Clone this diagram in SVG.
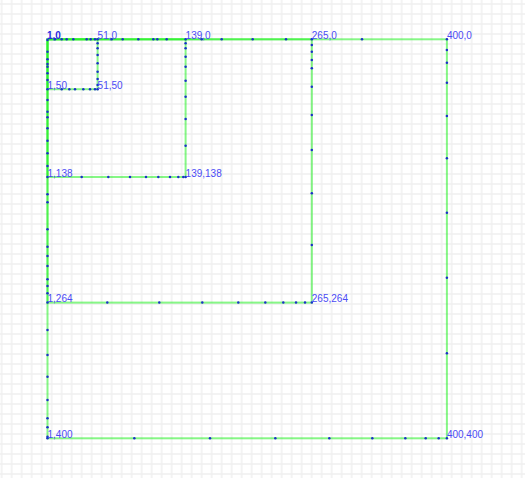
<svg xmlns="http://www.w3.org/2000/svg" width="525" height="478" viewBox="0 0 525 478">
<defs>
<pattern id="grid" patternUnits="userSpaceOnUse" x="-3.3" y="-1" width="10" height="10">
<rect x="4.2" y="0" width="1.6" height="10" fill="#f0f0f0"/>
<rect x="0" y="4.2" width="10" height="1.6" fill="#f0f0f0"/>
</pattern>
<style>
.sq{fill:none;stroke:#22f022;stroke-opacity:0.55;stroke-width:2}
.d{fill:#1a30c8}
.lb{font-family:"Liberation Sans",Arial,sans-serif;font-size:10px;fill:#4b4bf5}
.lb0{font-family:"Liberation Sans",Arial,sans-serif;font-size:10px;font-weight:bold;fill:#2a2ae0}
</style>
</defs>
<rect width="525" height="478" fill="#ffffff"/>
<rect width="525" height="478" fill="url(#grid)"/>
<g id="square-400"><rect class="sq" x="47.5" y="39.3" width="399.4" height="399"/></g>
<g id="square-265"><rect class="sq" x="47.5" y="39.3" width="264.3" height="263.3"/></g>
<g id="square-139"><rect class="sq" x="47.5" y="39.3" width="138.1" height="137.7"/></g>
<g id="square-51"><rect class="sq" x="47.5" y="39.3" width="50.1" height="49.9"/></g>
<g id="points">
<g transform="translate(47.5,0)">
<circle class="d" cx="0" cy="40" r="1.25"/><circle class="d" cx="0" cy="51.7" r="1.25"/><circle class="d" cx="0" cy="59.3" r="1.25"/><circle class="d" cx="0" cy="64" r="1.25"/><circle class="d" cx="0" cy="66.7" r="1.25"/><circle class="d" cx="0" cy="73.3" r="1.25"/><circle class="d" cx="0" cy="80" r="1.25"/><circle class="d" cx="0" cy="89.2" r="1.25"/><circle class="d" cx="0" cy="100" r="1.25"/><circle class="d" cx="0" cy="111.7" r="1.25"/><circle class="d" cx="0" cy="117.3" r="1.25"/><circle class="d" cx="0" cy="128.3" r="1.25"/><circle class="d" cx="0" cy="140.7" r="1.25"/><circle class="d" cx="0" cy="153.3" r="1.25"/><circle class="d" cx="0" cy="166" r="1.25"/><circle class="d" cx="0" cy="177" r="1.25"/><circle class="d" cx="0" cy="194.3" r="1.25"/><circle class="d" cx="0" cy="202.3" r="1.25"/><circle class="d" cx="0" cy="229.3" r="1.25"/><circle class="d" cx="0" cy="246.7" r="1.25"/><circle class="d" cx="0" cy="256" r="1.25"/><circle class="d" cx="0" cy="266" r="1.25"/><circle class="d" cx="0" cy="279.3" r="1.25"/><circle class="d" cx="0" cy="286" r="1.25"/><circle class="d" cx="0" cy="293.3" r="1.25"/><circle class="d" cx="0" cy="302.6" r="1.25"/><circle class="d" cx="0" cy="330" r="1.25"/><circle class="d" cx="0" cy="355" r="1.25"/><circle class="d" cx="0" cy="376.7" r="1.25"/><circle class="d" cx="0" cy="400" r="1.25"/><circle class="d" cx="0" cy="418.3" r="1.25"/><circle class="d" cx="0" cy="427.3" r="1.25"/><circle class="d" cx="0" cy="436.7" r="1.25"/><circle class="d" cx="0" cy="438.3" r="1.25"/>
</g>
<g transform="translate(0,39.3)">
<circle class="d" cx="55" cy="0" r="1.25"/><circle class="d" cx="61.7" cy="0" r="1.25"/><circle class="d" cx="66.7" cy="0" r="1.25"/><circle class="d" cx="73.3" cy="0" r="1.25"/><circle class="d" cx="86.7" cy="0" r="1.25"/><circle class="d" cx="90.7" cy="0" r="1.25"/><circle class="d" cx="95" cy="0" r="1.25"/><circle class="d" cx="97.6" cy="0" r="1.25"/><circle class="d" cx="111.7" cy="0" r="1.25"/><circle class="d" cx="122.7" cy="0" r="1.25"/><circle class="d" cx="138.3" cy="0" r="1.25"/><circle class="d" cx="153.3" cy="0" r="1.25"/><circle class="d" cx="157.3" cy="0" r="1.25"/><circle class="d" cx="166.7" cy="0" r="1.25"/><circle class="d" cx="185.6" cy="0" r="1.25"/><circle class="d" cx="201.7" cy="0" r="1.25"/><circle class="d" cx="221.7" cy="0" r="1.25"/><circle class="d" cx="252.7" cy="0" r="1.25"/><circle class="d" cx="286" cy="0" r="1.25"/><circle class="d" cx="311.8" cy="0" r="1.25"/><circle class="d" cx="362" cy="0" r="1.25"/><circle class="d" cx="446.9" cy="0" r="1.25"/>
</g>
<g transform="translate(97.6,0)">
<circle class="d" cx="0" cy="43.3" r="1.25"/><circle class="d" cx="0" cy="48.3" r="1.25"/><circle class="d" cx="0" cy="55" r="1.25"/><circle class="d" cx="0" cy="63.3" r="1.25"/><circle class="d" cx="0" cy="71.7" r="1.25"/><circle class="d" cx="0" cy="79" r="1.25"/><circle class="d" cx="0" cy="85" r="1.25"/><circle class="d" cx="0" cy="89.2" r="1.25"/>
</g>
<g transform="translate(0,89.2)">
<circle class="d" cx="61.7" cy="0" r="1.25"/><circle class="d" cx="69.3" cy="0" r="1.25"/><circle class="d" cx="75" cy="0" r="1.25"/><circle class="d" cx="83.3" cy="0" r="1.25"/><circle class="d" cx="90" cy="0" r="1.25"/><circle class="d" cx="95" cy="0" r="1.25"/>
</g>
<g transform="translate(185.6,0)">
<circle class="d" cx="0" cy="43.3" r="1.25"/><circle class="d" cx="0" cy="48.3" r="1.25"/><circle class="d" cx="0" cy="56.7" r="1.25"/><circle class="d" cx="0" cy="66.7" r="1.25"/><circle class="d" cx="0" cy="80.7" r="1.25"/><circle class="d" cx="0" cy="96.7" r="1.25"/><circle class="d" cx="0" cy="119" r="1.25"/><circle class="d" cx="0" cy="145.7" r="1.25"/><circle class="d" cx="0" cy="177" r="1.25"/>
</g>
<g transform="translate(0,177)">
<circle class="d" cx="81.7" cy="0" r="1.25"/><circle class="d" cx="108.3" cy="0" r="1.25"/><circle class="d" cx="130" cy="0" r="1.25"/><circle class="d" cx="146" cy="0" r="1.25"/><circle class="d" cx="158.3" cy="0" r="1.25"/><circle class="d" cx="170" cy="0" r="1.25"/><circle class="d" cx="178.3" cy="0" r="1.25"/><circle class="d" cx="183.3" cy="0" r="1.25"/>
</g>
<g transform="translate(311.8,0)">
<circle class="d" cx="0" cy="45" r="1.25"/><circle class="d" cx="0" cy="51.7" r="1.25"/><circle class="d" cx="0" cy="60" r="1.25"/><circle class="d" cx="0" cy="68.3" r="1.25"/><circle class="d" cx="0" cy="86.7" r="1.25"/><circle class="d" cx="0" cy="115" r="1.25"/><circle class="d" cx="0" cy="150" r="1.25"/><circle class="d" cx="0" cy="193.3" r="1.25"/><circle class="d" cx="0" cy="245" r="1.25"/><circle class="d" cx="0" cy="302.6" r="1.25"/>
</g>
<g transform="translate(0,302.6)">
<circle class="d" cx="107.3" cy="0" r="1.25"/><circle class="d" cx="159.3" cy="0" r="1.25"/><circle class="d" cx="202.3" cy="0" r="1.25"/><circle class="d" cx="238.3" cy="0" r="1.25"/><circle class="d" cx="265.3" cy="0" r="1.25"/><circle class="d" cx="283.3" cy="0" r="1.25"/><circle class="d" cx="296" cy="0" r="1.25"/><circle class="d" cx="305" cy="0" r="1.25"/>
</g>
<g transform="translate(446.9,0)">
<circle class="d" cx="0" cy="50" r="1.25"/><circle class="d" cx="0" cy="62.7" r="1.25"/><circle class="d" cx="0" cy="82.7" r="1.25"/><circle class="d" cx="0" cy="116" r="1.25"/><circle class="d" cx="0" cy="158.3" r="1.25"/><circle class="d" cx="0" cy="212.7" r="1.25"/><circle class="d" cx="0" cy="277.7" r="1.25"/><circle class="d" cx="0" cy="353.3" r="1.25"/><circle class="d" cx="0" cy="438.3" r="1.25"/>
</g>
<g transform="translate(0,438.3)">
<circle class="d" cx="134.3" cy="0" r="1.25"/><circle class="d" cx="210" cy="0" r="1.25"/><circle class="d" cx="275.3" cy="0" r="1.25"/><circle class="d" cx="329.3" cy="0" r="1.25"/><circle class="d" cx="372.3" cy="0" r="1.25"/><circle class="d" cx="405.3" cy="0" r="1.25"/><circle class="d" cx="425.7" cy="0" r="1.25"/><circle class="d" cx="438.7" cy="0" r="1.25"/>
</g>
</g>
<g id="labels">
<text class="lb0" x="47" y="38.5">1,0</text>
<text class="lb" x="97.6" y="38.5">51,0</text>
<text class="lb" x="185.6" y="38.5">139,0</text>
<text class="lb" x="311.8" y="38.5">265,0</text>
<text class="lb" x="446.9" y="38.5">400,0</text>
<text class="lb" x="47.5" y="88.7">1,50</text>
<text class="lb" x="97.6" y="88.7">51,50</text>
<text class="lb" x="47.5" y="176.5">1,138</text>
<text class="lb" x="185.6" y="176.5">139,138</text>
<text class="lb" x="47.5" y="302.1">1,264</text>
<text class="lb" x="311.8" y="302.1">265,264</text>
<text class="lb" x="47.5" y="437.8">1,400</text>
<text class="lb" x="446.9" y="437.8">400,400</text>
</g>
</svg>
